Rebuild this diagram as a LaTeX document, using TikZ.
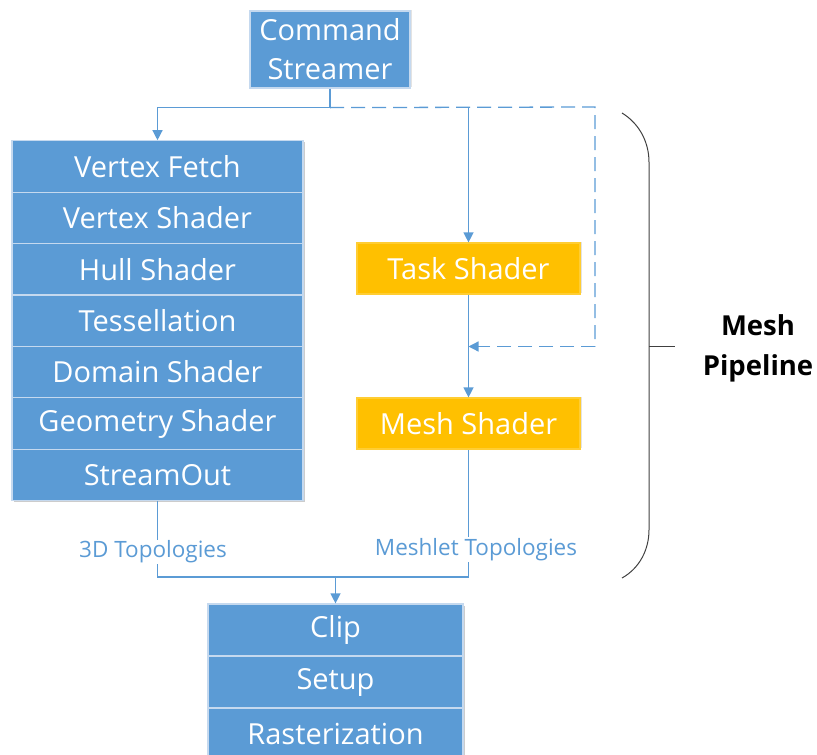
\documentclass[tikz,border=0pt]{standalone}
\usepackage{fontspec}
\setmainfont{Open Sans}
\usetikzlibrary{arrows.meta,shadows,calc}
\definecolor{stageblue}{HTML}{5B9BD5}
\definecolor{stageorange}{HTML}{FFC000}
\definecolor{rowline}{HTML}{C5D9EF}
\definecolor{bracegray}{HTML}{404040}
\tikzset{
  stage/.style={rectangle, fill=stageblue, draw=rowline, line width=1.2pt,
    text=white, font=\fontsize{29}{39}\selectfont, align=center,
    inner sep=0pt, minimum height=51.4pt},
  leftrow/.style={stage, minimum width=291pt},
  botrow/.style={stage, minimum width=255pt, minimum height=52pt},
  meshstage/.style={stage, fill=stageorange, draw=stageorange!80!white,
    minimum width=223pt, minimum height=51pt},
  boxshadow/.style={drop shadow={opacity=0.22, shadow xshift=1.5pt, shadow yshift=1.5pt}},
  flow/.style={draw=stageblue, line width=1.3pt},
  flowarrow/.style={flow, -{Triangle[width=10pt,length=10pt]}},
  dashflow/.style={flow, dash pattern=on 14pt off 7pt},
  toplabel/.style={text=stageblue, font=\fontsize{22.5}{26}\selectfont,
    fill=white, inner sep=1pt},
}
\begin{document}
\begin{tikzpicture}[x=1pt, y=-1pt]
  \useasboundingbox (0,0) rectangle (817,755);

  % command streamer
  \node[stage, boxshadow, minimum width=160pt, minimum height=77pt] (cs) at (330,49.5)
    {Command\\Streamer};

  % classic geometry pipeline
  \fill[black, opacity=0.2] (13.5,141.5) rectangle (304.5,501.5);
  \node[leftrow] (vf) at (157.5,166.5) {Vertex Fetch};
  \node[leftrow] (vs) at (157.5,217.9) {Vertex Shader};
  \node[leftrow] (hs) at (157.5,269.3) {Hull Shader};
  \node[leftrow] (ts) at (157.5,320.7) {Tessellation};
  \node[leftrow] (ds) at (157.5,372.1) {Domain Shader};
  \node[leftrow] (gs) at (157.5,423.5) {Geometry Shader};
  \node[leftrow] (so) at (157.5,474.9) {StreamOut};

  % mesh pipeline stages
  \node[meshstage, boxshadow] (task) at (468.5,268.5) {Task Shader};
  \node[meshstage, boxshadow] (mesh) at (468.5,423.5) {Mesh Shader};

  % rasterization stages
  \fill[black, opacity=0.2] (209.5,605.5) rectangle (464.5,760);
  \node[botrow] (clip) at (335.5,630) {Clip};
  \node[botrow] (setup) at (335.5,682) {Setup};
  \node[botrow] (rast) at (335.5,734) {Rasterization};

  % dispatch from the command streamer
  \coordinate (split) at ($(cs.south)+(0,19)$);
  \coordinate (dcorner) at (595,107);
  \coordinate (dturn) at (595,346.5);
  \draw[flow] (cs.south) -- (split);
  \draw[flowarrow] (split) -| (vf.north);
  \draw[flowarrow] (split -| task.north) -- (task.north);
  \draw[dashflow] (split) -- (dcorner) -- (dturn);
  \draw[dashflow, -{Triangle[width=10pt,length=10pt]}] (dturn) -- (dturn -| task.south);
  \draw[flowarrow] (task.south) -- (mesh.north);

  % merge into rasterization
  \coordinate (mergeL) at (157.5,577);
  \coordinate (mergeR) at (468.5,577);
  \draw[flow] (so.south) -- (mergeL) -- (mergeR) -- (mesh.south);
  \draw[flowarrow] (mergeL -| clip.north) -- (clip.north);
  \node[toplabel] (lab3d) at (153,552) {3D Topologies};
  \node[toplabel] (labml) at (476,549.5) {Meshlet Topologies};

  % brace around the mesh pipeline
  \draw[bracegray, line width=1pt]
    (622,113) .. controls (640,124) and (649,143) .. (649,162)
    -- (649,530) .. controls (649,549) and (640,568) .. (622,578);
  \coordinate (bracetip) at (675,346.5);
  \draw[bracegray, line width=1pt] (649,346.5) -- (bracetip);
  \node[font=\fontsize{27.5}{40}\selectfont\bfseries, align=center] (mp) at (758,348)
    {Mesh\\Pipeline};
\end{tikzpicture}
\end{document}
